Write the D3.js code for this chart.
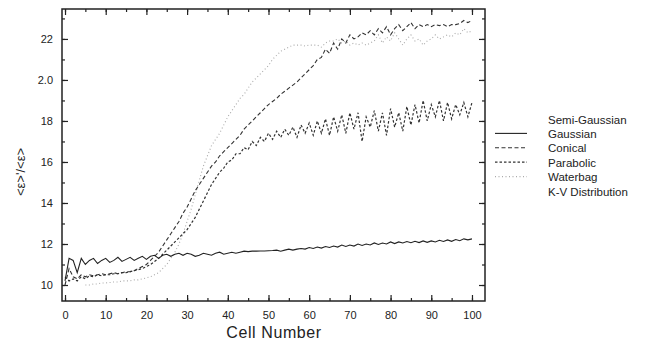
<!DOCTYPE html>
<html>
<head>
<meta charset="utf-8">
<script src="https://cdn.jsdelivr.net/npm/d3@7"></script>
<style>
  body { margin: 0; background: #fff; }
  svg { font-family: "Liberation Sans", Arial, sans-serif; }
</style>
</head>
<body>
<div id="chart"></div>
<script>
// emittance growth vs cell number
const cells = d3.range(0, 101);
const waterbagCells = d3.range(5, 101);

const gaussian = [1.02,1.13,1.12,1.06,1.13,1.10,1.12,1.13,1.105,1.12,1.13,1.11,1.12,1.135,1.115,1.125,1.135,1.12,1.13,1.14,
  1.125,1.14,1.145,1.13,1.145,1.15,1.14,1.15,1.155,1.145,1.155,1.15,1.14,1.145,1.155,1.15,1.145,1.155,1.16,1.15,
  1.155,1.16,1.155,1.16,1.165,1.163,1.165,1.165,1.166,1.166,1.167,1.168,1.17,1.165,1.17,1.175,1.17,1.175,1.178,1.175,
  1.183,1.178,1.185,1.18,1.188,1.183,1.19,1.185,1.195,1.188,1.195,1.19,1.2,1.193,1.2,1.195,1.205,1.198,1.205,1.2,
  1.21,1.202,1.21,1.205,1.212,1.206,1.213,1.207,1.215,1.208,1.215,1.21,1.218,1.212,1.22,1.213,1.222,1.216,1.225,1.22,1.225];

const conical = [1.00,1.08,1.04,1.03,1.05,1.04,1.05,1.045,1.05,1.055,1.05,1.055,1.06,1.055,1.06,1.065,1.065,1.07,1.08,1.09,
  1.10,1.12,1.14,1.16,1.19,1.22,1.25,1.28,1.31,1.35,1.38,1.42,1.46,1.49,1.52,1.55,1.58,1.60,1.63,1.65,
  1.67,1.69,1.71,1.73,1.76,1.78,1.80,1.82,1.84,1.86,1.88,1.895,1.91,1.93,1.945,1.96,1.975,1.99,2.01,2.03,
  2.05,2.07,2.10,2.11,2.15,2.13,2.18,2.15,2.20,2.18,2.22,2.20,2.21,2.23,2.22,2.24,2.22,2.25,2.23,2.26,
  2.22,2.25,2.27,2.24,2.26,2.28,2.25,2.27,2.26,2.27,2.26,2.27,2.265,2.27,2.26,2.27,2.27,2.275,2.29,2.28,2.29];

const parabolic = [1.04,1.02,1.03,1.02,1.04,1.03,1.045,1.04,1.05,1.045,1.05,1.05,1.055,1.055,1.06,1.06,1.065,1.07,1.075,1.08,
  1.09,1.10,1.115,1.13,1.15,1.17,1.19,1.21,1.23,1.25,1.27,1.30,1.33,1.37,1.41,1.45,1.49,1.52,1.55,1.57,
  1.60,1.61,1.64,1.64,1.67,1.66,1.70,1.68,1.72,1.70,1.74,1.71,1.75,1.72,1.76,1.73,1.77,1.72,1.78,1.74,
  1.79,1.73,1.80,1.74,1.81,1.73,1.82,1.75,1.83,1.74,1.84,1.76,1.84,1.70,1.82,1.77,1.85,1.75,1.84,1.73,
  1.86,1.77,1.84,1.75,1.87,1.78,1.88,1.79,1.90,1.80,1.88,1.82,1.90,1.80,1.89,1.81,1.88,1.83,1.89,1.82,1.89];

const waterbag = [1.00,1.00,1.005,1.005,1.01,1.01,1.012,1.015,1.015,1.02,1.02,1.02,1.025,1.025,1.03,
  1.035,1.04,1.05,1.06,1.08,1.10,1.13,1.16,1.20,1.25,1.31,1.37,1.44,1.51,1.58,1.63,1.68,1.71,1.74,1.78,
  1.82,1.85,1.88,1.91,1.93,1.96,1.99,2.01,2.03,2.05,2.07,2.10,2.12,2.14,2.15,2.16,2.17,2.17,2.17,2.165,
  2.17,2.17,2.17,2.16,2.18,2.19,2.19,2.2,2.18,2.19,2.17,2.18,2.17,2.18,2.17,2.18,2.19,2.22,2.18,2.21,
  2.19,2.23,2.2,2.17,2.2,2.22,2.19,2.2,2.17,2.19,2.2,2.22,2.2,2.21,2.22,2.21,2.23,2.22,2.25,2.23,2.24];

const legendNames = ["Semi-Gaussian", "Gaussian", "Conical", "Parabolic", "Waterbag", "K-V Distribution"];
const xTicks = [0, 10, 20, 30, 40, 50, 60, 70, 80, 90, 100];
const yTicks = [1.0, 1.2, 1.4, 1.6, 1.8, 2.0, 2.2];
const yTickLabels = ["10", "12", "14", "16", "18", "2.0", "22"];

const width = 647, height = 342;
const plotLeft = 62, plotRight = 485, plotTop = 9, plotBottom = 301;

const svg = d3.select("#chart").append("svg")
  .attr("width", width)
  .attr("height", height);

const x = d3.scaleLinear().domain([-0.74, 103.2]).range([plotLeft, plotRight]);
const y = d3.scaleLinear().domain([0.922, 2.346]).range([plotBottom, plotTop]);

// series styles
const styles = {
  Gaussian: { color: "#222", width: 1.1, dash: null },
  Conical: { color: "#333", width: 1.1, dash: "4,2.5" },
  Parabolic: { color: "#333", width: 1.2, dash: "2.5,2" },
  Waterbag: { color: "#aaa", width: 1.1, dash: "1,2.5" }
};

const series = [
  { name: "Waterbag", xs: waterbagCells, ys: waterbag },
  { name: "Parabolic", xs: cells, ys: parabolic },
  { name: "Conical", xs: cells, ys: conical },
  { name: "Gaussian", xs: cells, ys: gaussian }
];

const line = d3.line().x(d => x(d[0])).y(d => y(d[1]));

series.forEach(s => {
  const st = styles[s.name];
  svg.append("path")
    .datum(s.xs.map((c, i) => [c, s.ys[i]]))
    .attr("d", line)
    .attr("fill", "none")
    .attr("stroke", st.color)
    .attr("stroke-width", st.width)
    .attr("stroke-dasharray", st.dash);
});

// axes, ticks pointing inward on all four sides
const xMinor = d3.range(0, 101, 5);
const yMinor = d3.range(1.0, 2.35, 0.1);

function styleAxis(g) {
  g.select(".domain").remove();
  g.selectAll("line").attr("stroke", "#222").attr("stroke-width", 1.2);
  g.selectAll("text").attr("fill", "#222").attr("font-size", 11);
}

svg.append("g").attr("transform", `translate(0,${plotBottom})`)
  .call(d3.axisBottom(x).tickValues(xMinor).tickSize(-3).tickFormat("")).call(styleAxis);
svg.append("g").attr("transform", `translate(0,${plotBottom})`)
  .call(d3.axisBottom(x).tickValues(xTicks).tickSize(-6).tickPadding(10)).call(styleAxis);
svg.append("g").attr("transform", `translate(0,${plotTop})`)
  .call(d3.axisTop(x).tickValues(xMinor).tickSize(-3).tickFormat("")).call(styleAxis);
svg.append("g").attr("transform", `translate(0,${plotTop})`)
  .call(d3.axisTop(x).tickValues(xTicks).tickSize(-6).tickFormat("")).call(styleAxis);

svg.append("g").attr("transform", `translate(${plotLeft},0)`)
  .call(d3.axisLeft(y).tickValues(yMinor).tickSize(-3).tickFormat("")).call(styleAxis);
svg.append("g").attr("transform", `translate(${plotLeft},0)`)
  .call(d3.axisLeft(y).tickValues(yTicks).tickSize(-6).tickPadding(9)
    .tickFormat((d, i) => yTickLabels[i])).call(styleAxis);
svg.append("g").attr("transform", `translate(${plotRight},0)`)
  .call(d3.axisRight(y).tickValues(yMinor).tickSize(-3).tickFormat("")).call(styleAxis);
svg.append("g").attr("transform", `translate(${plotRight},0)`)
  .call(d3.axisRight(y).tickValues(yTicks).tickSize(-6).tickFormat("")).call(styleAxis);

// frame
svg.append("rect")
  .attr("x", plotLeft).attr("y", plotTop)
  .attr("width", plotRight - plotLeft).attr("height", plotBottom - plotTop)
  .attr("fill", "none")
  .attr("stroke", "#222")
  .attr("stroke-width", 1.5);

// axis titles
svg.append("text")
  .attr("x", 274).attr("y", 338)
  .attr("text-anchor", "middle")
  .attr("font-size", 16)
  .attr("letter-spacing", 0.6)
  .attr("fill", "#222")
  .text("Cell Number");

svg.append("text")
  .attr("transform", "translate(25,172) rotate(-90)")
  .attr("text-anchor", "middle")
  .attr("font-size", 13)
  .attr("fill", "#222")
  .text("<ε>'/<ε>");

// legend
const legend = svg.append("g").attr("transform", "translate(495,120)");
legendNames.forEach((name, i) => {
  const row = legend.append("g").attr("transform", `translate(0,${i * 14.4})`);
  const st = styles[name];
  if (st) {
    row.append("line")
      .attr("x1", 0).attr("x2", 32)
      .attr("y1", -1).attr("y2", -1)
      .attr("stroke", st.color)
      .attr("stroke-width", st.width)
      .attr("stroke-dasharray", st.dash);
  }
  row.append("text")
    .attr("x", 53).attr("y", 3.5)
    .attr("font-size", 11.5)
    .attr("fill", "#222")
    .text(name);
});
</script>
</body>
</html>
